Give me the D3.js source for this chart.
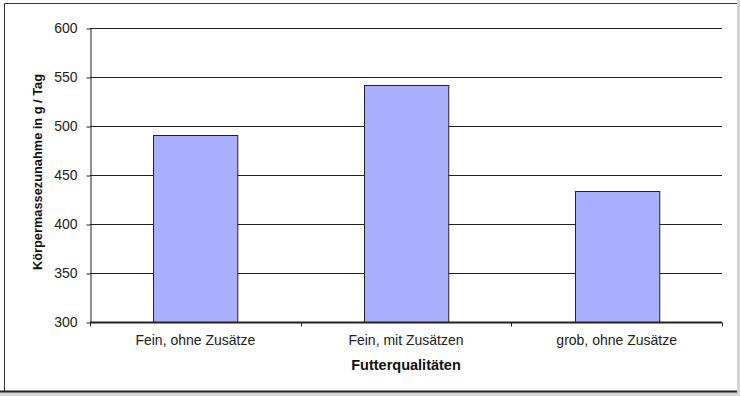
<!DOCTYPE html>
<html>
<head>
<meta charset="utf-8">
<script src="https://cdn.jsdelivr.net/npm/d3@7"></script>
<style>
  html, body { margin: 0; padding: 0; background: #d4d4d4; }
  svg { display: block; }
</style>
</head>
<body>
<svg id="chart" width="740" height="396"></svg>
<script>
// data
const categories = ["Fein, ohne Zusätze", "Fein, mit Zusätzen", "grob, ohne Zusätze"];
const values = [491, 542, 434];
const yTicks = [300, 350, 400, 450, 500, 550, 600];
const xTitle = "Futterqualitäten";
const yTitle = "Körpermassezunahme in g / Tag";

class BarChart {
  constructor(svg_element_id) {
    this.svg = d3.select('#' + svg_element_id);
    this.width = 740;
    this.height = 396;
    this.margin = ({ top: 28, right: 18, bottom: 74, left: 90 });
  }

  draw() {
    const svg = this.svg;
    const m = this.margin;
    const font = "Liberation Sans, Arial, sans-serif";

    // frame
    svg.append("rect")
      .attr("x", 0).attr("y", 0)
      .attr("width", 737).attr("height", 392)
      .attr("fill", "#fff");
    svg.append("path")
      .attr("d", "M4.5,392 V3.5 H737")
      .attr("fill", "none").attr("stroke", "#333").attr("stroke-width", 1);
    svg.append("line")
      .attr("x1", 0).attr("x2", 737).attr("y1", 391.5).attr("y2", 391.5)
      .attr("stroke", "#222").attr("stroke-width", 2);

    const x = d3.scaleBand()
      .domain(categories)
      .range([m.left, this.width - m.right])
      .paddingInner(0.6)
      .paddingOuter(0.3);

    const y = d3.scaleLinear()
      .domain([300, 600])
      .range([this.height - m.bottom, m.top]);

    // gridlines
    svg.append("g")
      .selectAll("line")
      .data(yTicks.filter(d => d > 300))
      .enter().append("line")
      .attr("x1", m.left).attr("x2", this.width - m.right)
      .attr("y1", d => Math.round(y(d)) + 0.5)
      .attr("y2", d => Math.round(y(d)) + 0.5)
      .attr("stroke", "#222").attr("stroke-width", 1);

    // bars
    svg.append("g")
      .selectAll("rect")
      .data(values)
      .enter().append("rect")
      .attr("x", (d, i) => Math.round(x(categories[i])) + 0.5)
      .attr("y", d => Math.round(y(d)) + 0.5)
      .attr("width", x.bandwidth())
      .attr("height", d => y(300) - Math.round(y(d)))
      .attr("fill", "#a9aefe")
      .attr("stroke", "#222")
      .attr("stroke-width", 1);

    // y axis
    const yAxis = svg.append("g")
      .attr("transform", `translate(${m.left + 0.5},0.5)`)
      .call(d3.axisLeft(y).tickValues(yTicks).tickSize(4).tickPadding(9).tickSizeOuter(0));
    yAxis.select(".domain").attr("stroke", "#222");
    yAxis.selectAll(".tick line").attr("stroke", "#222");
    yAxis.selectAll("text")
      .attr("font-family", font)
      .attr("font-size", 14).attr("fill", "#222");

    // x axis with ticks at category boundaries
    const xAxis = svg.append("g")
      .attr("transform", `translate(0,${Math.round(y(300)) + 0.5})`);
    xAxis.append("line")
      .attr("x1", m.left).attr("x2", this.width - m.right)
      .attr("stroke", "#222").attr("stroke-width", 2);
    const step = x.step();
    xAxis.selectAll(".bt")
      .data(d3.range(categories.length + 1))
      .enter().append("line")
      .attr("x1", i => Math.round(m.left + i * step) + 0.5)
      .attr("x2", i => Math.round(m.left + i * step) + 0.5)
      .attr("y1", 0).attr("y2", 4)
      .attr("stroke", "#222");
    xAxis.selectAll("text")
      .data(categories)
      .enter().append("text")
      .attr("x", d => x(d) + x.bandwidth() / 2)
      .attr("y", 22)
      .attr("text-anchor", "middle")
      .attr("font-family", font)
      .attr("font-size", 14).attr("fill", "#222")
      .text(d => d);

    // axis titles
    svg.append("text")
      .attr("x", (m.left + this.width - m.right) / 2)
      .attr("y", 370)
      .attr("text-anchor", "middle")
      .attr("font-family", font)
      .attr("font-weight", "bold")
      .attr("font-size", 14.5).attr("fill", "#111")
      .text(xTitle);

    svg.append("text")
      .attr("transform", `translate(42,172) rotate(-90)`)
      .attr("text-anchor", "middle")
      .attr("font-family", font)
      .attr("font-weight", "bold")
      .attr("font-size", 12.8).attr("fill", "#111")
      .text(yTitle);
  }
}

function whenDocumentLoaded(action) {
  if (document.readyState === "loading") {
    document.addEventListener("DOMContentLoaded", action);
  } else {
    action();
  }
}

whenDocumentLoaded(() => {
  const chart = new BarChart('chart');
  chart.draw();
});
</script>
</body>
</html>
